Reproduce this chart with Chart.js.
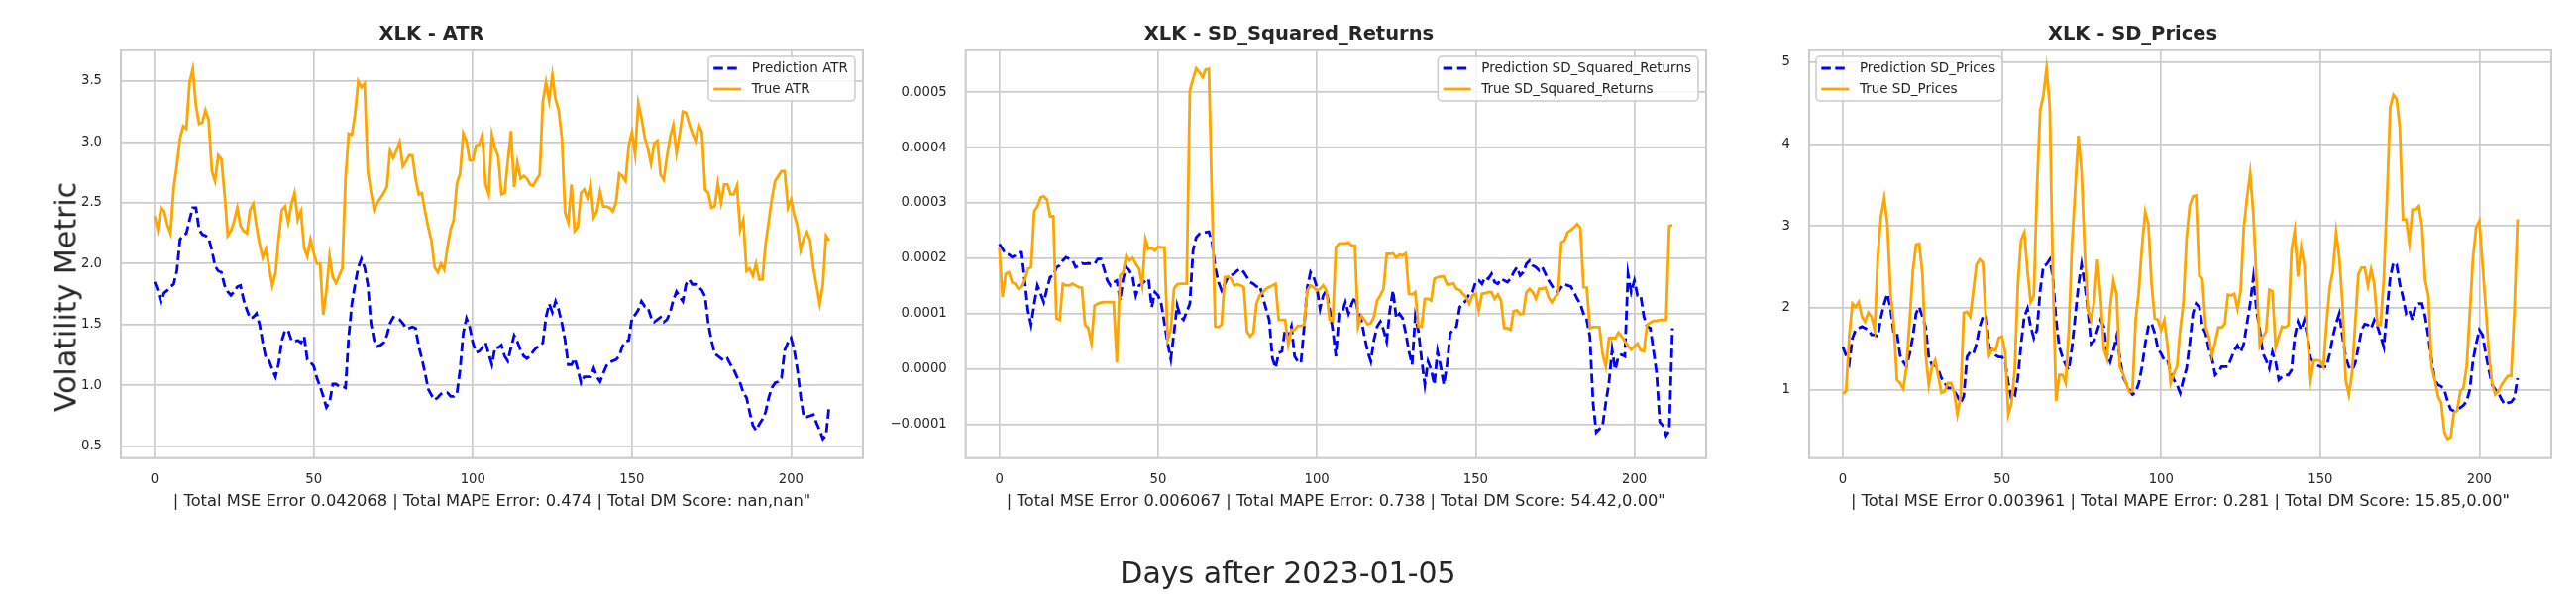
<!DOCTYPE html>
<html>
<head>
<meta charset="utf-8">
<title>XLK volatility predictions</title>
<script src="https://cdn.jsdelivr.net/npm/chart.js@4.4.1/dist/chart.umd.min.js"></script>
<style>
  body { margin: 0; background: #fff; }
  #wrap { position: relative; width: 2600px; height: 600px; background: #fff; overflow: hidden; font-family: 'DejaVu Sans', sans-serif; color: #262626; }
  .panel { position: absolute; top: 0; height: 600px; }
  #supY { position: absolute; left: 66px; top: 300px; font-size: 30px; white-space: nowrap; transform: translate(-50%, -50%) rotate(-90deg); }
  #supX { position: absolute; left: 1300px; top: 578px; font-size: 30px; white-space: nowrap; transform: translate(-50%, -50%); }
</style>
</head>
<body>
<div id="wrap">
  <div class="panel" style="left:0;width:880px"><canvas id="c1" width="880" height="600"></canvas></div>
  <div class="panel" style="left:880px;width:850px"><canvas id="c2" width="850" height="600"></canvas></div>
  <div class="panel" style="left:1730px;width:870px"><canvas id="c3" width="870" height="600"></canvas></div>
  <div id="supY">Volatility Metric</div>
  <div id="supX">Days after 2023-01-05</div>
</div>
<script>
// --- DATA ---
const xTicks = [0, 50, 100, 150, 200];
const xTickLabels = ['0', '50', '100', '150', '200'];

const atrTrue = [2.39,2.28,2.46,2.43,2.32,2.25,2.62,2.81,3.03,3.13,
3.11,3.49,3.60,3.30,3.15,3.16,3.26,3.18,2.76,2.68,
2.89,2.86,2.57,2.23,2.27,2.35,2.46,2.31,2.27,2.25,
2.44,2.49,2.31,2.16,2.05,2.12,1.97,1.82,1.92,2.21,
2.44,2.47,2.34,2.49,2.58,2.36,2.43,2.13,2.06,2.20,
2.09,2.00,2.00,1.58,1.78,2.06,1.89,1.84,1.90,1.96,
2.70,3.07,3.06,3.23,3.50,3.45,3.48,2.76,2.59,2.44,
2.50,2.54,2.58,2.63,2.93,2.87,2.93,3.00,2.80,2.84,
2.89,2.89,2.70,2.57,2.58,2.43,2.30,2.19,1.97,1.93,
2.00,1.95,2.13,2.28,2.36,2.66,2.74,3.07,3.01,2.85,
2.85,2.97,2.98,3.06,2.65,2.57,3.06,2.95,2.88,2.57,
2.58,2.84,3.09,2.63,2.83,2.70,2.72,2.70,2.65,2.64,
2.69,2.73,3.33,3.49,3.34,3.55,3.35,3.26,3.03,2.42,
2.34,2.65,2.27,2.30,2.58,2.61,2.54,2.65,2.38,2.43,
2.59,2.47,2.47,2.46,2.43,2.50,2.74,2.72,2.68,2.97,
3.08,2.90,3.32,3.20,3.04,2.95,2.82,2.99,3.01,2.73,
2.69,2.88,3.04,3.14,2.91,3.06,3.25,3.24,3.15,3.07,
3.01,3.14,3.08,2.61,2.58,2.46,2.47,2.66,2.50,2.65,
2.65,2.57,2.57,2.64,2.28,2.36,1.94,1.96,1.90,2.00,
1.87,1.87,2.16,2.35,2.54,2.68,2.72,2.76,2.76,2.46,
2.53,2.40,2.31,2.11,2.21,2.26,2.19,1.97,1.82,1.67,
1.83,2.23,2.19];

const atrPred = [1.85,1.78,1.68,1.76,1.78,1.81,1.83,1.94,2.20,2.23,
2.25,2.36,2.46,2.46,2.28,2.24,2.23,2.21,2.11,1.98,
1.94,1.93,1.82,1.77,1.74,1.77,1.81,1.82,1.70,1.62,
1.55,1.56,1.59,1.50,1.35,1.22,1.20,1.13,1.07,1.18,
1.37,1.45,1.45,1.37,1.36,1.37,1.35,1.40,1.21,1.19,
1.16,1.06,0.99,0.91,0.82,0.86,1.01,1.01,0.99,0.99,
0.98,1.40,1.67,1.83,1.97,2.04,1.97,1.83,1.51,1.37,
1.32,1.33,1.35,1.41,1.51,1.56,1.55,1.54,1.51,1.47,
1.47,1.48,1.47,1.32,1.22,1.10,0.97,0.92,0.88,0.90,
0.93,0.94,0.94,0.91,0.91,0.93,1.13,1.43,1.55,1.48,
1.35,1.27,1.28,1.31,1.35,1.26,1.17,1.31,1.31,1.33,
1.24,1.20,1.31,1.41,1.36,1.29,1.24,1.22,1.24,1.28,
1.31,1.32,1.35,1.56,1.67,1.60,1.69,1.62,1.51,1.37,
1.17,1.17,1.22,1.13,1.02,1.07,1.07,1.07,1.14,1.07,
1.03,1.10,1.16,1.19,1.20,1.21,1.24,1.32,1.36,1.37,
1.55,1.58,1.62,1.69,1.65,1.64,1.56,1.52,1.54,1.56,
1.52,1.54,1.60,1.70,1.77,1.73,1.69,1.83,1.87,1.83,
1.83,1.81,1.78,1.73,1.51,1.37,1.26,1.24,1.22,1.20,
1.22,1.17,1.13,1.07,1.02,0.94,0.90,0.78,0.67,0.63,
0.68,0.72,0.78,0.90,0.98,1.02,1.03,1.06,1.29,1.35,
1.39,1.29,1.13,0.91,0.74,0.74,0.75,0.76,0.69,0.63,
0.56,0.59,0.84];

const sqRetTrue = [2.20e-4,1.30e-4,1.72e-4,1.75e-4,1.57e-4,1.54e-4,1.45e-4,1.48e-4,1.60e-4,1.81e-4,
1.84e-4,2.85e-4,2.94e-4,3.10e-4,3.12e-4,3.06e-4,2.76e-4,2.76e-4,0.92e-4,0.89e-4,
1.54e-4,1.51e-4,1.51e-4,1.54e-4,1.51e-4,1.48e-4,1.47e-4,0.80e-4,0.74e-4,0.47e-4,
1.15e-4,1.18e-4,1.20e-4,1.21e-4,1.21e-4,1.21e-4,1.21e-4,0.12e-4,1.69e-4,1.75e-4,
2.05e-4,1.96e-4,2.01e-4,1.90e-4,1.81e-4,1.51e-4,2.35e-4,2.17e-4,2.19e-4,2.14e-4,
2.21e-4,2.20e-4,2.20e-4,0.53e-4,0.71e-4,1.45e-4,1.53e-4,1.54e-4,1.54e-4,1.54e-4,
5.03e-4,5.24e-4,5.43e-4,5.36e-4,5.27e-4,5.41e-4,5.42e-4,2.97e-4,0.77e-4,0.76e-4,
0.80e-4,1.66e-4,1.67e-4,1.63e-4,1.51e-4,1.53e-4,1.51e-4,1.48e-4,0.68e-4,0.59e-4,
0.65e-4,1.18e-4,1.33e-4,1.39e-4,1.45e-4,1.48e-4,1.51e-4,1.54e-4,0.89e-4,0.89e-4,
0.89e-4,0.44e-4,0.71e-4,0.71e-4,0.78e-4,0.78e-4,0.80e-4,1.42e-4,1.51e-4,1.48e-4,
1.42e-4,1.45e-4,1.51e-4,1.42e-4,0.89e-4,0.87e-4,2.20e-4,2.27e-4,2.27e-4,2.27e-4,
2.29e-4,2.23e-4,2.23e-4,0.77e-4,0.97e-4,0.89e-4,0.81e-4,0.83e-4,0.95e-4,1.24e-4,
1.33e-4,1.45e-4,2.08e-4,2.08e-4,2.09e-4,2.01e-4,2.07e-4,2.05e-4,2.09e-4,1.36e-4,
1.35e-4,1.39e-4,0.77e-4,0.77e-4,1.27e-4,1.27e-4,1.24e-4,1.63e-4,1.66e-4,1.67e-4,
1.67e-4,1.53e-4,1.53e-4,1.55e-4,1.45e-4,1.43e-4,1.36e-4,1.30e-4,1.18e-4,1.33e-4,
1.36e-4,1.06e-4,1.36e-4,1.37e-4,1.39e-4,1.39e-4,1.27e-4,1.35e-4,1.24e-4,0.74e-4,
0.74e-4,0.71e-4,1.05e-4,1.06e-4,0.99e-4,1.00e-4,1.39e-4,1.45e-4,1.39e-4,1.27e-4,
1.45e-4,1.45e-4,1.47e-4,1.29e-4,1.21e-4,1.30e-4,1.36e-4,2.29e-4,2.32e-4,2.47e-4,
2.51e-4,2.56e-4,2.62e-4,2.55e-4,1.48e-4,1.47e-4,0.74e-4,0.76e-4,0.76e-4,0.76e-4,
0.27e-4,0.05e-4,0.56e-4,0.56e-4,0.56e-4,0.66e-4,0.59e-4,0.50e-4,0.42e-4,0.35e-4,
0.41e-4,0.46e-4,0.34e-4,0.32e-4,0.80e-4,0.84e-4,0.87e-4,0.87e-4,0.89e-4,0.89e-4,
0.89e-4,2.58e-4,2.60e-4];

const sqRetPred = [2.26e-4,2.17e-4,2.08e-4,2.07e-4,2.02e-4,2.05e-4,2.11e-4,2.11e-4,1.60e-4,1.06e-4,
0.80e-4,1.18e-4,1.51e-4,1.36e-4,1.21e-4,1.45e-4,1.66e-4,1.69e-4,1.84e-4,1.87e-4,
1.96e-4,2.02e-4,1.99e-4,1.97e-4,1.84e-4,1.87e-4,1.91e-4,1.90e-4,1.91e-4,1.90e-4,
1.90e-4,1.99e-4,1.99e-4,1.81e-4,1.60e-4,1.51e-4,1.57e-4,1.60e-4,1.24e-4,1.63e-4,
1.84e-4,1.78e-4,1.66e-4,1.33e-4,1.51e-4,1.54e-4,1.60e-4,1.63e-4,1.12e-4,1.39e-4,
1.33e-4,1.18e-4,0.83e-4,0.47e-4,0.18e-4,0.65e-4,1.15e-4,0.95e-4,0.89e-4,1.03e-4,
1.18e-4,2.14e-4,2.38e-4,2.44e-4,2.45e-4,2.47e-4,2.48e-4,2.29e-4,1.84e-4,1.57e-4,
1.42e-4,1.54e-4,1.66e-4,1.69e-4,1.73e-4,1.78e-4,1.81e-4,1.75e-4,1.66e-4,1.57e-4,
1.54e-4,1.49e-4,1.51e-4,1.30e-4,1.09e-4,0.89e-4,0.20e-4,0.02e-4,0.29e-4,0.32e-4,
0.71e-4,0.59e-4,0.77e-4,0.23e-4,0.14e-4,0.11e-4,0.77e-4,1.48e-4,1.75e-4,1.66e-4,
1.48e-4,1.09e-4,1.33e-4,1.42e-4,1.09e-4,0.71e-4,0.23e-4,1.00e-4,1.03e-4,1.21e-4,
1.00e-4,1.18e-4,1.30e-4,1.03e-4,0.89e-4,0.59e-4,0.32e-4,0.14e-4,0.53e-4,0.77e-4,
0.86e-4,0.71e-4,0.50e-4,1.06e-4,1.42e-4,0.92e-4,1.00e-4,0.92e-4,0.65e-4,0.32e-4,
0.08e-4,0.95e-4,0.68e-4,0.17e-4,-0.28e-4,0.14e-4,-0.01e-4,-0.28e-4,0.32e-4,0.05e-4,
-0.28e-4,0.08e-4,0.65e-4,0.71e-4,0.77e-4,1.12e-4,1.18e-4,1.24e-4,1.36e-4,1.39e-4,
1.57e-4,1.60e-4,1.54e-4,1.66e-4,1.63e-4,1.72e-4,1.57e-4,1.54e-4,1.63e-4,1.60e-4,
1.57e-4,1.63e-4,1.75e-4,1.84e-4,1.69e-4,1.75e-4,1.90e-4,1.96e-4,1.87e-4,1.84e-4,
1.78e-4,1.84e-4,1.72e-4,1.60e-4,1.51e-4,1.42e-4,1.39e-4,1.48e-4,1.54e-4,1.51e-4,
1.49e-4,1.39e-4,1.27e-4,1.18e-4,1.00e-4,0.89e-4,0.59e-4,-0.61e-4,-1.14e-4,-1.08e-4,
-1.02e-4,-0.61e-4,-0.25e-4,0.35e-4,-0.01e-4,0.23e-4,0.26e-4,0.23e-4,1.72e-4,1.39e-4,
1.60e-4,1.33e-4,1.33e-4,0.95e-4,0.77e-4,0.74e-4,0.35e-4,-0.07e-4,-0.96e-4,-1.02e-4,
-1.20e-4,-1.11e-4,0.74e-4];

const pricesTrue = [0.95,0.98,1.65,2.05,2.01,2.07,1.89,1.83,1.94,1.89,
1.73,2.65,3.12,3.34,3.02,2.17,1.81,1.12,1.08,1.01,
1.28,1.85,2.45,2.77,2.78,2.41,1.44,1.06,1.28,1.36,
1.16,0.96,0.98,1.08,1.08,0.96,0.70,0.92,1.94,1.95,
1.89,2.21,2.53,2.59,2.55,1.81,1.42,1.50,1.48,1.63,
1.65,1.46,0.70,0.84,1.24,2.29,2.83,2.92,2.45,2.07,
2.15,3.46,4.41,4.59,4.92,4.47,2.37,0.86,1.18,1.18,
1.08,1.73,2.77,3.44,4.10,3.66,2.69,1.97,1.85,2.09,
2.59,2.13,1.50,1.38,2.01,2.33,2.17,1.28,1.20,1.08,
0.97,0.98,1.85,2.21,2.75,3.17,3.02,2.29,1.87,1.85,
1.73,1.85,1.54,1.08,1.20,1.28,1.73,2.05,2.85,3.25,
3.36,3.37,2.39,2.35,1.77,1.65,1.42,1.58,1.76,1.76,
1.80,2.16,2.15,2.17,1.99,2.21,2.98,3.34,3.64,3.14,
2.33,1.54,1.65,1.71,2.22,2.20,1.52,1.65,1.77,1.76,
1.79,2.71,2.94,2.38,2.74,2.53,1.65,1.12,1.36,1.36,
1.35,1.28,1.81,2.25,2.45,2.92,2.61,2.05,1.12,0.94,
1.20,1.81,2.41,2.49,2.49,2.27,2.47,2.29,1.79,1.79,
2.37,3.34,4.45,4.60,4.55,4.21,3.08,3.08,2.79,3.20,
3.20,3.24,3.00,2.33,2.15,1.28,1.12,0.92,0.84,0.48,
0.40,0.42,0.72,0.74,0.98,1.02,1.28,1.93,2.61,2.98,
3.06,2.53,2.01,1.44,1.08,0.94,0.98,1.06,1.12,1.17,
1.17,1.97,3.08];

const pricesPred = [1.52,1.42,1.32,1.63,1.73,1.75,1.77,1.75,1.73,1.67,
1.67,1.65,1.89,2.05,2.17,1.99,1.69,1.69,1.42,1.34,
1.28,1.44,1.65,1.93,2.01,1.89,1.77,1.40,1.30,1.30,
1.24,1.14,1.08,1.02,1.02,0.98,0.92,0.84,0.92,1.40,
1.46,1.44,1.56,1.77,1.89,1.91,1.52,1.46,1.42,1.40,
1.40,1.34,1.08,0.88,0.92,1.14,1.56,1.89,1.99,1.77,
1.63,1.73,2.21,2.51,2.53,2.59,2.37,1.85,1.52,1.40,
1.30,1.24,1.52,1.89,2.27,2.53,2.29,1.97,1.56,1.60,
1.73,1.85,1.77,1.44,1.34,1.48,1.65,1.40,1.16,1.08,
1.00,0.94,0.97,1.08,1.28,1.56,1.77,1.81,1.69,1.50,
1.44,1.36,1.36,1.22,1.12,1.06,0.96,1.12,1.26,1.56,
1.93,2.05,2.01,1.77,1.69,1.50,1.38,1.18,1.22,1.28,
1.28,1.28,1.38,1.48,1.54,1.46,1.56,1.81,2.05,2.37,
1.97,1.73,1.44,1.36,1.26,1.46,1.34,1.12,1.16,1.18,
1.18,1.24,1.65,1.83,1.73,1.85,1.65,1.38,1.34,1.30,
1.28,1.28,1.28,1.44,1.65,1.81,1.93,1.65,1.40,1.28,
1.24,1.32,1.52,1.73,1.80,1.79,1.75,1.85,1.77,1.65,
1.52,1.97,2.37,2.55,2.53,2.29,2.13,1.93,1.97,1.85,
2.03,2.05,2.05,1.89,1.65,1.36,1.12,1.06,1.04,1.00,
0.86,0.76,0.74,0.76,0.78,0.81,0.86,1.00,1.36,1.56,
1.73,1.67,1.44,1.24,1.06,1.00,0.96,0.88,0.82,0.84,
0.85,0.90,1.14];

const atrTicks = [0.5, 1.0, 1.5, 2.0, 2.5, 3.0, 3.5];
const atrTickLabels = ['0.5', '1.0', '1.5', '2.0', '2.5', '3.0', '3.5'];
const sqRetTicks = [-0.0001, 0, 0.0001, 0.0002, 0.0003, 0.0004, 0.0005];
const sqRetTickLabels = ['\u22120.0001', '0.0000', '0.0001', '0.0002', '0.0003', '0.0004', '0.0005'];
const pricesTicks = [1, 2, 3, 4, 5];
const pricesTickLabels = ['1', '2', '3', '4', '5'];

const days = atrTrue.map((_, i) => i);

// --- STYLE ---
const INK = '#262626';
const GRID = '#cccccc';
Chart.defaults.font.family = "'DejaVu Sans', sans-serif";
Chart.defaults.color = INK;

// axes frame (matplotlib spines)
const frame = {
    id: 'frame',
    afterDatasetsDraw(chart) {
        const { ctx, chartArea: a } = chart;
        ctx.save();
        ctx.strokeStyle = GRID;
        ctx.lineWidth = 2.1;
        ctx.strokeRect(a.left, a.top, a.right - a.left, a.bottom - a.top);
        ctx.restore();
    }
};

// legend box drawn inside the plot area
const boxLegend = {
    id: 'boxLegend',
    afterDraw(chart, args, opts) {
        const { ctx, chartArea: a } = chart;
        const sets = chart.data.datasets;
        ctx.save();
        ctx.font = "13.5px 'DejaVu Sans'";
        const textW = Math.max(...sets.map(d => ctx.measureText(d.label).width));
        const w = 5.3 + 28 + 10.6 + textW + 7;
        const h = 45;
        const x = opts.side === 'left' ? a.left + 7 : a.right - 8 - w;
        const y = a.top + 6.3;
        ctx.beginPath();
        ctx.roundRect(x, y, w, h, 4);
        ctx.fillStyle = 'rgba(255,255,255,0.8)';
        ctx.fill();
        ctx.strokeStyle = GRID;
        ctx.lineWidth = 1.5;
        ctx.stroke();
        sets.forEach((d, i) => {
            const cy = y + 12 + i * 21;
            ctx.strokeStyle = d.borderColor;
            ctx.lineWidth = d.borderWidth;
            ctx.setLineDash(d.borderDash || []);
            ctx.beginPath();
            ctx.moveTo(x + 5.3, cy);
            ctx.lineTo(x + 5.3 + 28, cy);
            ctx.stroke();
            ctx.setLineDash([]);
            ctx.fillStyle = INK;
            ctx.textBaseline = 'middle';
            ctx.textAlign = 'left';
            ctx.fillText(d.label, x + 5.3 + 28 + 10.6, cy);
        });
        ctx.restore();
    }
};

function points(vals) {
    return vals.map((v, i) => ({ x: days[i], y: v }));
}

function makePanel(id, p) {
    new Chart(document.getElementById(id), {
        type: 'line',
        data: {
            datasets: [
                { label: 'Prediction ' + p.name, data: points(p.pred), borderColor: '#0000ff', borderWidth: 2.8, borderDash: [9.5, 4.5], pointRadius: 0, tension: 0, order: 1 },
                { label: 'True ' + p.name, data: points(p.truth), borderColor: '#ffa500', borderWidth: 2.8, pointRadius: 0, tension: 0, order: 0 }
            ]
        },
        options: {
            responsive: false,
            animation: false,
            devicePixelRatio: 1,
            layout: { padding: { left: 0, right: p.padRight, top: 0, bottom: 0 } },
            plugins: {
                legend: { display: false },
                tooltip: { enabled: false },
                title: { display: true, text: 'XLK - ' + p.name, color: INK, font: { size: 19.5, weight: 'bold' }, padding: { top: 23, bottom: 4.3 } },
                boxLegend: { side: p.legendSide }
            },
            scales: {
                x: {
                    type: 'linear',
                    min: -10.6, max: 222.6,
                    bounds: 'data',
                    afterBuildTicks: s => { s.ticks = xTicks.map(v => ({ value: v })); },
                    afterFit: s => { s.height = 137.3; },
                    grid: { color: GRID, lineWidth: 1.7, drawTicks: false },
                    border: { display: false },
                    ticks: { padding: 14.4, font: { size: 13.2 }, color: INK, maxRotation: 0, callback: (v, i) => xTickLabels[i] },
                    title: { display: true, text: p.xlabel, color: INK, font: { size: 16.3 }, padding: { top: 0, bottom: 83 } }
                },
                y: {
                    type: 'linear',
                    min: p.yMin, max: p.yMax,
                    bounds: 'data',
                    afterBuildTicks: s => { s.ticks = p.yTicks.map(v => ({ value: v })); },
                    afterFit: s => { s.width = p.yWidth; },
                    grid: { color: GRID, lineWidth: 1.7, drawTicks: false },
                    border: { display: false },
                    ticks: { padding: 19, font: { size: 13.2 }, color: INK, callback: (v, i) => p.yTickLabels[i] }
                }
            }
        },
        plugins: [frame, boxLegend]
    });
}

makePanel('c1', {
    name: 'ATR', truth: atrTrue, pred: atrPred,
    yMin: 0.402, yMax: 3.755, yTicks: atrTicks, yTickLabels: atrTickLabels,
    yWidth: 122, padRight: 9, legendSide: 'right',
    xlabel: '| Total MSE Error 0.042068 | Total MAPE Error: 0.474 | Total DM Score: nan,nan"'
});
makePanel('c2', {
    name: 'SD_Squared_Returns', truth: sqRetTrue, pred: sqRetPred,
    yMin: -0.0001607, yMax: 0.000576, yTicks: sqRetTicks, yTickLabels: sqRetTickLabels,
    yWidth: 94.7, padRight: 8, legendSide: 'right',
    xlabel: '| Total MSE Error 0.006067 | Total MAPE Error: 0.738 | Total DM Score: 54.42,0.00"'
});
makePanel('c3', {
    name: 'SD_Prices', truth: pricesTrue, pred: pricesPred,
    yMin: 0.165, yMax: 5.145, yTicks: pricesTicks, yTickLabels: pricesTickLabels,
    yWidth: 96, padRight: 25, legendSide: 'left',
    xlabel: '| Total MSE Error 0.003961 | Total MAPE Error: 0.281 | Total DM Score: 15.85,0.00"'
});
</script>
</body>
</html>
